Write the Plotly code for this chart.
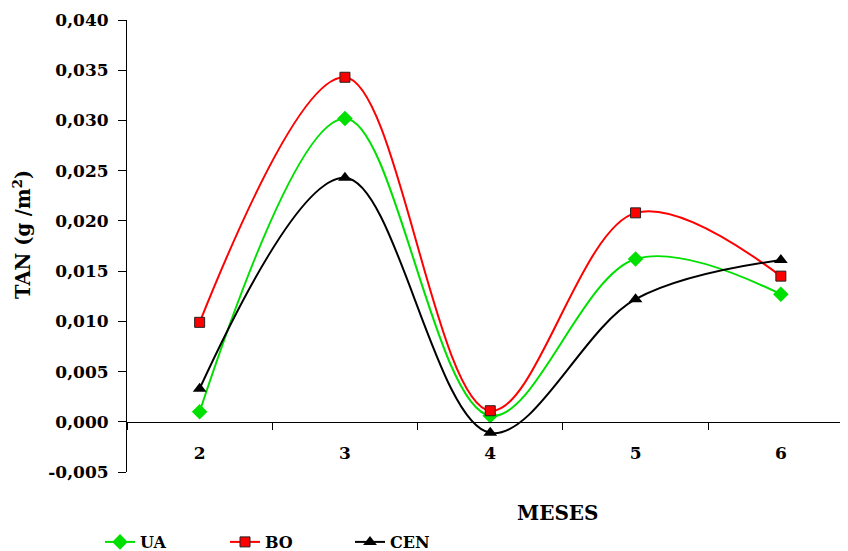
import plotly.graph_objects as go

meses = ["2", "3", "4", "5", "6"]
ua = [0.0010, 0.0302, 0.0006, 0.0162, 0.0127]
bo = [0.0099, 0.0343, 0.0011, 0.0208, 0.0145]
cen = [0.0033, 0.0243, -0.0011, 0.0122, 0.0161]

ytickvals = [-0.005, 0.0, 0.005, 0.010, 0.015, 0.020, 0.025, 0.030, 0.035, 0.040]
yticktext = ["-0,005", "0,000", "0,005", "0,010", "0,015", "0,020", "0,025", "0,030", "0,035", "0,040"]

FONT = "DejaVu Serif"

fig = go.Figure()
fig.add_trace(go.Scatter(x=meses, y=ua, name="UA", mode="lines+markers",
                         line=dict(color="#00E000", width=2, shape="spline", smoothing=1),
                         marker=dict(symbol="diamond", size=12, color="#00E000")))
fig.add_trace(go.Scatter(x=meses, y=bo, name="BO", mode="lines+markers",
                         line=dict(color="#FF0000", width=2, shape="spline", smoothing=1),
                         marker=dict(symbol="square", size=10, color="#FF0000",
                                     line=dict(color="#222222", width=1))))
fig.add_trace(go.Scatter(x=meses, y=cen, name="CEN", mode="lines+markers",
                         line=dict(color="#000000", width=2, shape="spline", smoothing=1),
                         marker=dict(symbol="triangle-up", size=12, color="#000000")))

# page body has an 8px margin: work in figure coordinates = screen - 8
OFF = 8
y0, y1 = -0.005, 0.040
zero_pos = (0 - y0) / (y1 - y0)
W, H = 848, 551 - OFF
L, T = 127 - OFF, 20 - OFF
PW = W - L
PB = 472 - OFF
PH = PB - T
CAT = 145.3  # px per category in the reference

fig.update_layout(
    width=W, height=H,
    margin=dict(l=L, r=0, t=T, b=H - PB, autoexpand=False),
    paper_bgcolor="white", plot_bgcolor="white",
    font=dict(family=FONT, size=17, color="black"),
    showlegend=True,
    legend=dict(orientation="h", x=(100 - 127) / PW, y=-(542 - 472) / PH,
                xanchor="left", yanchor="middle",
                entrywidth=80, entrywidthmode="pixels",
                font=dict(family=FONT, size=16, color="black", weight="bold"),
                bgcolor="rgba(0,0,0,0)"),
    xaxis=dict(type="category", range=[-0.5, -0.5 + PW / CAT], anchor="free",
               position=zero_pos,
               showline=True, linecolor="black", linewidth=1,
               ticks="outside", tickson="boundaries", ticklen=7, tickcolor="black",
               ticklabelstandoff=16, automargin=False,
               showgrid=False, zeroline=False,
               tickfont=dict(family=FONT, size=17, color="black", weight="bold")),
    yaxis=dict(range=[y0, y1], tickvals=ytickvals, ticktext=yticktext,
               showline=True, linecolor="black", linewidth=1,
               ticks="outside", ticklen=8, tickcolor="black", automargin=False,
               ticklabelstandoff=6,
               showgrid=False, zeroline=False,
               tickfont=dict(family=FONT, size=17, color="black", weight="bold")),
    annotations=[
        dict(text="MESES", xref="paper", yref="paper", x=(558 - 127) / PW,
             y=-(513 - 472) / PH, xanchor="center", yanchor="middle", showarrow=False,
             font=dict(family=FONT, size=20, color="black", weight="bold")),
        dict(text="TAN (g /m<sup>2</sup>)", xref="paper", yref="paper",
             x=-(127 - 22) / PW, y=1 - (234 - 20) / PH, textangle=-90,
             xanchor="center", yanchor="middle", showarrow=False,
             font=dict(family=FONT, size=19.5, color="black", weight="bold")),
    ],
)

fig.write_html("out.html")
